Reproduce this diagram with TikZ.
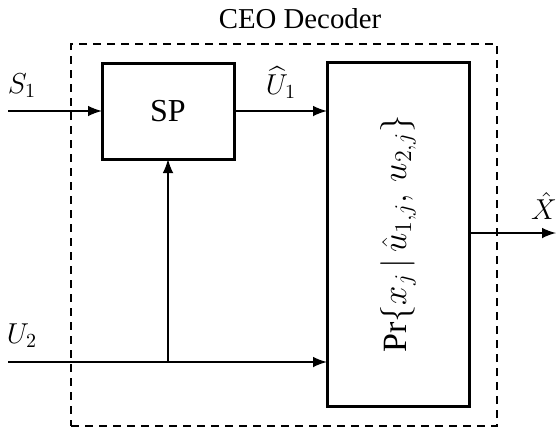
\documentclass[tikz,border=0pt]{standalone}
\usepackage{amsmath}
\usepackage{fontspec}
\setmainfont{Liberation Serif}
\usetikzlibrary{arrows,shapes,calc,positioning}
\tikzstyle{edge}  =[line width=1.4pt, -latex]
\tikzstyle{block} =[draw, rectangle, line width=1.5pt,
                    inner sep=0pt, outer sep=0pt]
\tikzstyle{frame} =[draw, rectangle, line width=1pt,
                    dash pattern=on 4pt off 3pt,
                    inner sep=0pt, outer sep=0pt]
\tikzstyle{tag}   =[anchor=south, inner sep=1pt]

\begin{document}
\begin{tikzpicture}[x=0.5pt, y=-0.5pt, every node/.style={font=\Large}]
        \useasboundingbox (0,0) rectangle (556,429);
                \node (dec) [frame, minimum width=213pt, minimum height=191pt] at (284,235) {};
                \node (title) at (300,19) {CEO Decoder};
                \node (sp) [block, minimum width=66pt, minimum height=48pt,
                            font=\fontsize{16}{19}\selectfont] at (168,111) {SP};
                \node (pr) [block, minimum width=71pt, minimum height=172pt] at (398,234)
                        {\rotatebox{90}{\fontsize{17}{20}\selectfont
                         $\Pr\{x_j\,|\,\hat{u}_{1,j},\,u_{2,j}\}$}};
                \coordinate (s1) at (8,111);
                \coordinate (u2) at (8,362);
                \coordinate (join) at (168,362);
                \coordinate (xhat) at (556,233);

                \draw[edge] (s1) to (sp.west);
                \draw[edge] (sp.east) to (sp.east -| pr.west);
                \draw[edge, -] (u2) to (join);
                \draw[edge] (join) to (join -| pr.west);
                \draw[edge] (join) to (sp.south);
                \draw[edge] (pr.east |- xhat) to (xhat);

                \node (s1l) [tag] at (22,100) {$S_1$};
                \node (u2l) [tag] at (22,350) {$U_2$};
                \node (u1l) [tag] at (281,101) {$\widehat{U}_1$};
                \node (xl)  [tag] at (544,222) {$\hat{X}$};
        \end{tikzpicture}
\end{document}
